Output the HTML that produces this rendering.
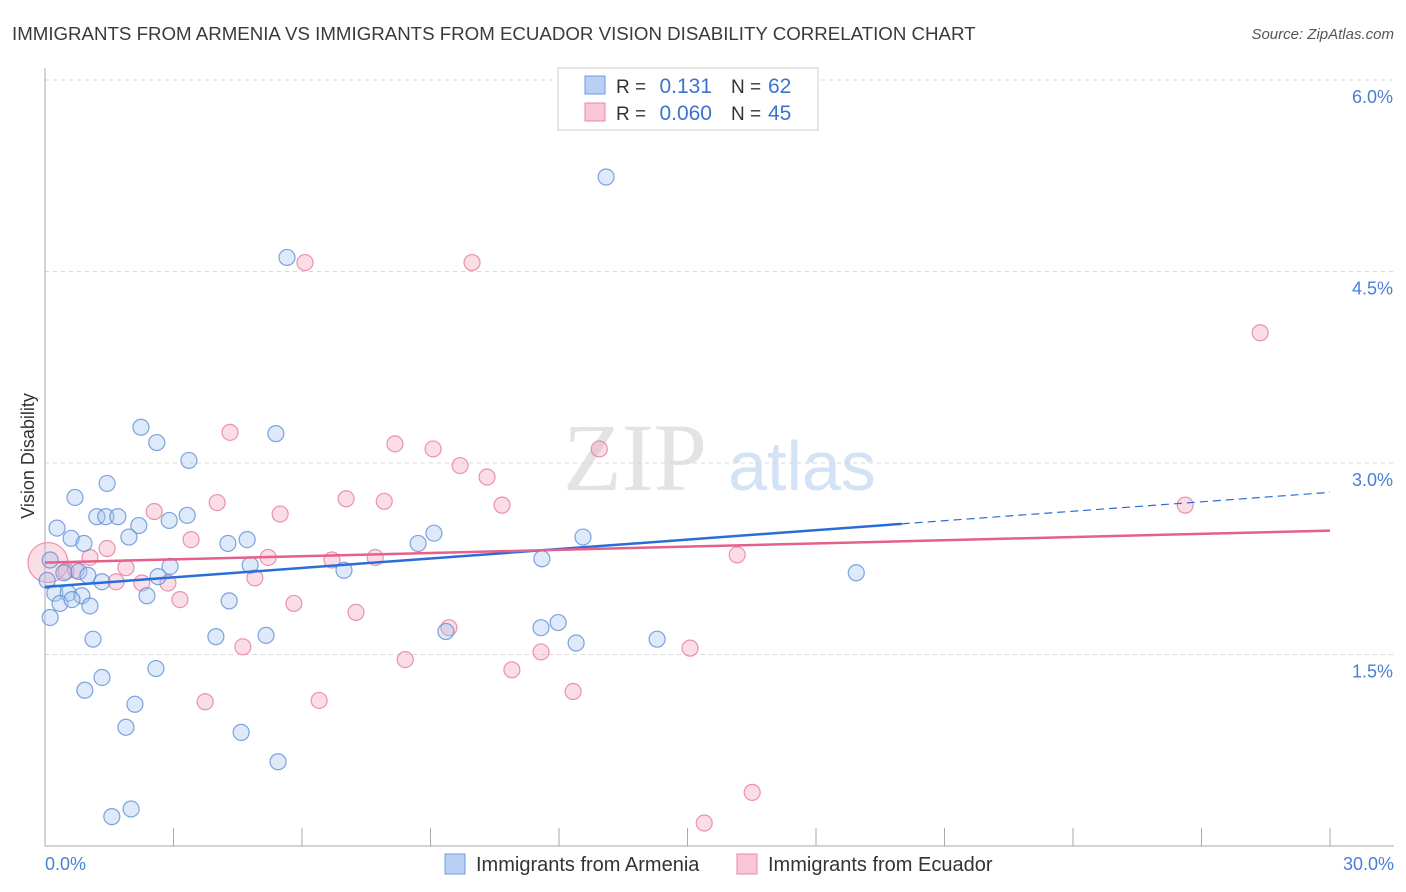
<!DOCTYPE html>
<html><head><meta charset="utf-8"><style>
body{margin:0;background:#fff;font-family:"Liberation Sans",sans-serif;}
#wrap{position:relative;width:1406px;height:892px;overflow:hidden;}
</style></head><body><div id="wrap">
<svg id="svg" width="1406" height="892" xmlns="http://www.w3.org/2000/svg"></svg>
</div>
<script>
const blueX=[13.10,5.65,2.24,2.61,5.39,3.36,1.45,0.70,1.21,1.42,1.70,3.32,2.90,2.19,0.28,0.61,0.91,1.96,4.72,4.27,9.08,8.71,12.56,11.60,4.79,2.92,6.98,18.94,0.12,0.44,0.79,1.00,2.64,1.33,0.05,0.23,0.54,0.86,0.35,0.63,1.05,2.38,4.30,0.12,1.12,3.99,5.16,9.36,11.58,11.98,12.40,14.29,2.59,1.33,0.93,2.10,1.89,4.58,5.44,2.01,1.56];
const blueY=[5.24,4.61,3.28,3.16,3.23,3.02,2.84,2.73,2.58,2.58,2.58,2.59,2.55,2.51,2.49,2.41,2.37,2.42,2.40,2.37,2.45,2.37,2.42,2.25,2.20,2.19,2.16,2.14,2.24,2.14,2.15,2.12,2.11,2.07,2.08,1.98,1.98,1.96,1.90,1.93,1.88,1.96,1.92,1.79,1.62,1.64,1.65,1.68,1.71,1.75,1.59,1.62,1.39,1.32,1.22,1.11,0.93,0.89,0.66,0.29,0.23];
const pinkX=[6.07,9.97,28.37,4.32,8.17,9.06,12.94,9.69,10.32,4.02,7.03,7.92,10.67,2.55,5.49,26.62,3.41,1.45,1.05,5.21,6.70,7.71,16.16,0.07,1.89,0.49,0.72,1.66,2.26,2.87,4.90,3.15,5.81,7.26,9.43,4.62,11.58,15.06,8.41,10.90,12.33,3.74,6.40,16.51,15.39];
const pinkY=[4.57,4.57,4.02,3.24,3.15,3.11,3.11,2.98,2.89,2.69,2.72,2.70,2.67,2.62,2.60,2.67,2.40,2.33,2.26,2.26,2.24,2.26,2.28,2.22,2.18,2.15,2.16,2.07,2.06,2.06,2.10,1.93,1.90,1.83,1.71,1.56,1.52,1.55,1.46,1.38,1.21,1.13,1.14,0.42,0.18];
const pinkSize=[8,8,8,8,8,8,8,8,8,8,8,8,8,8,8,8,8,8,8,8,8,8,8,20,8,8,8,8,8,8,8,8,8,8,8,8,8,8,8,8,8,8,8,8,8];
const blueFit=[2.03,2.77];
const pinkFit=[2.22,2.47];
const yTicks=[1.5,3.0,4.5,6.0];
const yTickLabels=["1.5%","3.0%","4.5%","6.0%"];
const xTicks=[0,3,6,9,12,15,18,21,24,27,30];

const NS="http://www.w3.org/2000/svg",svg=document.getElementById('svg');
const X=v=>45+v/30*1285, Y=v=>846-v*127.67;
function el(t,a,txt){const e=document.createElementNS(NS,t);for(const k in a)e.setAttribute(k,a[k]);if(txt!=null)e.textContent=txt;svg.appendChild(e);return e;}
let e;
e=el('text',{x:12,y:40,'font-size':18.7,fill:'#3a3a3a'},'IMMIGRANTS FROM ARMENIA VS IMMIGRANTS FROM ECUADOR VISION DISABILITY CORRELATION CHART');

e=el('text',{x:1394,y:39,'font-size':15,fill:'#555','font-style':'italic','text-anchor':'end'},'Source: ZipAtlas.com');

e=el('text',{x:635,y:490,'font-size':96,fill:'#e3e3e3','font-family':'Liberation Serif, serif','text-anchor':'middle'},'ZIP');

e=el('text',{x:802,y:490,'font-size':70,fill:'#d3e2f5','text-anchor':'middle'},'atlas');

yTicks.forEach((v,i)=>{
 e=el('line',{x1:45,x2:1394,y1:Y(v),y2:Y(v),stroke:'#d8d8d8','stroke-dasharray':'4,4'});
 
 e=el('text',{x:1393,y:Y(v)+23,'font-size':18,fill:'#4a7fd4','text-anchor':'end'},yTickLabels[i]);
 
});
e=el('line',{x1:45,x2:45,y1:68,y2:846,stroke:'#aaa'});
e=el('line',{x1:45,x2:1394,y1:846,y2:846,stroke:'#aaa'});
xTicks.forEach(v=>{e=el('line',{x1:X(v),x2:X(v),y1:828,y2:846,stroke:'#aaa'});});
e=el('text',{x:45,y:870,'font-size':18,fill:'#4a7fd4'},'0.0%');
e=el('text',{x:1394,y:870,'font-size':18,fill:'#4a7fd4','text-anchor':'end'},'30.0%');
e=el('text',{x:34,y:456,'font-size':18,fill:'#333','text-anchor':'middle',transform:'rotate(-90 34 456)'},'Vision Disability');

function dots(xs,ys,sz,fill,stroke,name){xs.forEach((v,i)=>{
 const c=el('circle',{cx:X(v),cy:Y(ys[i]),r:sz?sz[i]:8,fill:fill,'fill-opacity':0.38,stroke:stroke,'stroke-width':1.2,'stroke-opacity':0.8});
 });}
dots(pinkX,pinkY,pinkSize,'#f4a6bd','#e67a9b','ecuador-point');
dots(blueX,blueY,null,'#a9c6ef','#5d8fd8','armenia-point');
const bm=X(20);
e=el('line',{x1:X(0),y1:Y(blueFit[0]),x2:bm,y2:Y(blueFit[0]+(blueFit[1]-blueFit[0])*20/30),stroke:'#2a6dd9','stroke-width':2.5});

e=el('line',{x1:bm,y1:Y(blueFit[0]+(blueFit[1]-blueFit[0])*20/30),x2:X(30),y2:Y(blueFit[1]),stroke:'#2a6dd9','stroke-width':1.2,'stroke-dasharray':'8,5'});

e=el('line',{x1:X(0),y1:Y(pinkFit[0]),x2:X(30),y2:Y(pinkFit[1]),stroke:'#e5608a','stroke-width':2.5});

e=el('rect',{x:558,y:68,width:260,height:62,fill:'#fff',stroke:'#ccc'});
e=el('rect',{x:585,y:76,width:20,height:18,fill:'#b7d0f3',stroke:'#6f9be0'});
e=el('rect',{x:585,y:103,width:20,height:18,fill:'#f9c6d5',stroke:'#e98aa8'});
[[93,'0.131','62'],[120,'0.060','45']].forEach((r,i)=>{
 e=el('text',{x:616,y:r[0],'font-size':19,fill:'#333'},'R = ');
 e=el('text',{x:712,y:r[0],'font-size':21,fill:'#3b73d1','text-anchor':'end'},r[1]);
 e=el('text',{x:731,y:r[0],'font-size':19,fill:'#333'},'N = ');
 e=el('text',{x:768,y:r[0],'font-size':21,fill:'#3b73d1'},r[2]);
});
e=el('rect',{x:445,y:854,width:20,height:20,fill:'#b7d0f3',stroke:'#6f9be0'});
e=el('text',{x:476,y:871,'font-size':20,fill:'#333'},'Immigrants from Armenia');
e=el('rect',{x:737,y:854,width:20,height:20,fill:'#f9c6d5',stroke:'#e98aa8'});
e=el('text',{x:768,y:871,'font-size':20,fill:'#333'},'Immigrants from Ecuador');
</script></body></html>
